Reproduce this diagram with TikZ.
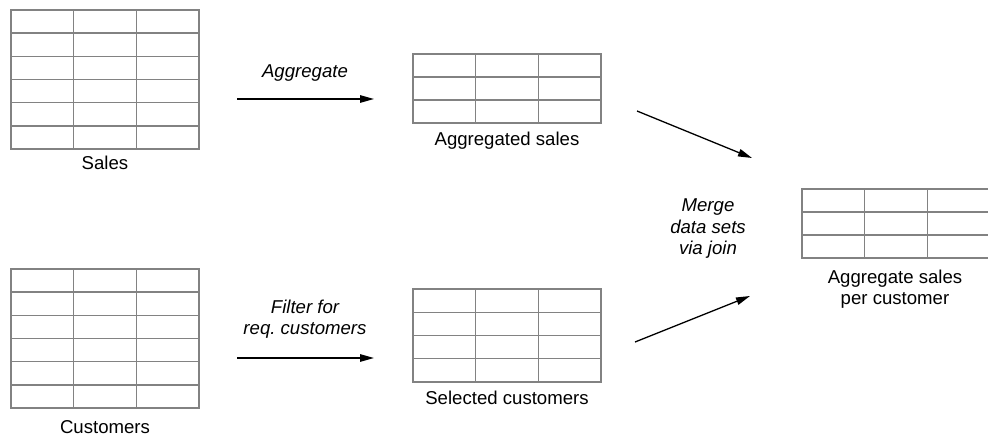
\documentclass[tikz,border=0pt]{standalone}
\usepackage{fontspec}
\setmainfont{Liberation Sans}
\usetikzlibrary{arrows.meta,calc}
\frenchspacing
\definecolor{tblgray}{RGB}{130,130,130}
\newcommand{\mktable}[6]{% name, x1, y1, x2, y2, inner row lines
  \node[tbl, minimum width=#4pt-#2pt, minimum height=#5pt-#3pt] (#1) at ({(#2+#4)/2},{(#3+#5)/2}) {};
  \foreach \i in {1,...,#6}{%
    \draw[tblline] ($(#1.north west)!{\i/(#6+1)}!(#1.south west)$) -- ($(#1.north east)!{\i/(#6+1)}!(#1.south east)$);
  }
  \foreach \j in {1,2}{%
    \draw[tblline] ($(#1.north west)!{\j/3}!(#1.north east)$) -- ($(#1.south west)!{\j/3}!(#1.south east)$);
  }
}
\begin{document}
\begin{tikzpicture}[x=1pt,y=-1pt,
  tbl/.style={draw=tblgray, line width=1.4pt, fill=white, inner sep=0pt, outer sep=0pt},
  tblline/.style={draw=tblgray, line width=1.4pt},
  lbl/.style={font=\fontsize{18.6}{21.5}\selectfont, inner sep=0pt, anchor=base, align=center},
  act/.style={font=\fontsize{18.6}{21.5}\selectfont\itshape, inner sep=0pt, anchor=base, align=center},
  flow/.style={line width=1.3pt, -{Triangle[length=14pt,width=7.5pt]}}]
\useasboundingbox (0,0) rectangle (988,435);
\fill[white] (0,0) rectangle (988,435);
% tables
\mktable{sales}{11}{10}{199}{149}{5}
\mktable{cust}{11}{269}{199}{408}{5}
\mktable{aggs}{413}{54}{601}{123}{2}
\mktable{selc}{413}{289}{601}{382}{3}
\mktable{fin}{802}{189}{990}{258}{2}
% labels (anchor = baseline of last line)
\node[lbl] (salesl) at (105,170) {Sales};
\node[lbl] (custl) at (105,433) {Customers};
\node[lbl] (aggsl) at (507,146) {Aggregated sales};
\node[lbl] (selcl) at (507,405) {Selected customers};
\node[lbl] (finl) at (895,305) {Aggregate sales\\per customer};
% arrows
\coordinate (a1s) at (237,99);
\coordinate (a1e) at (374,99);
\coordinate (a2s) at (237,358);
\coordinate (a2e) at (374,358);
\coordinate (a3s) at (637,111);
\coordinate (a3e) at (752,158);
\coordinate (a4s) at (635,342);
\coordinate (a4e) at (750,296);
\draw[flow] (a1s) -- (a1e);
\draw[flow] (a2s) -- (a2e);
\draw[flow] (a3s) -- (a3e);
\draw[flow] (a4s) -- (a4e);
\node[act] (aggl) at (305,78) {Aggregate};
\node[act] (filtl) at (305,335) {Filter for\\req. customers};
\node[act] (mergel) at (708,255) {Merge\\data sets\\via join};
\end{tikzpicture}
\end{document}
